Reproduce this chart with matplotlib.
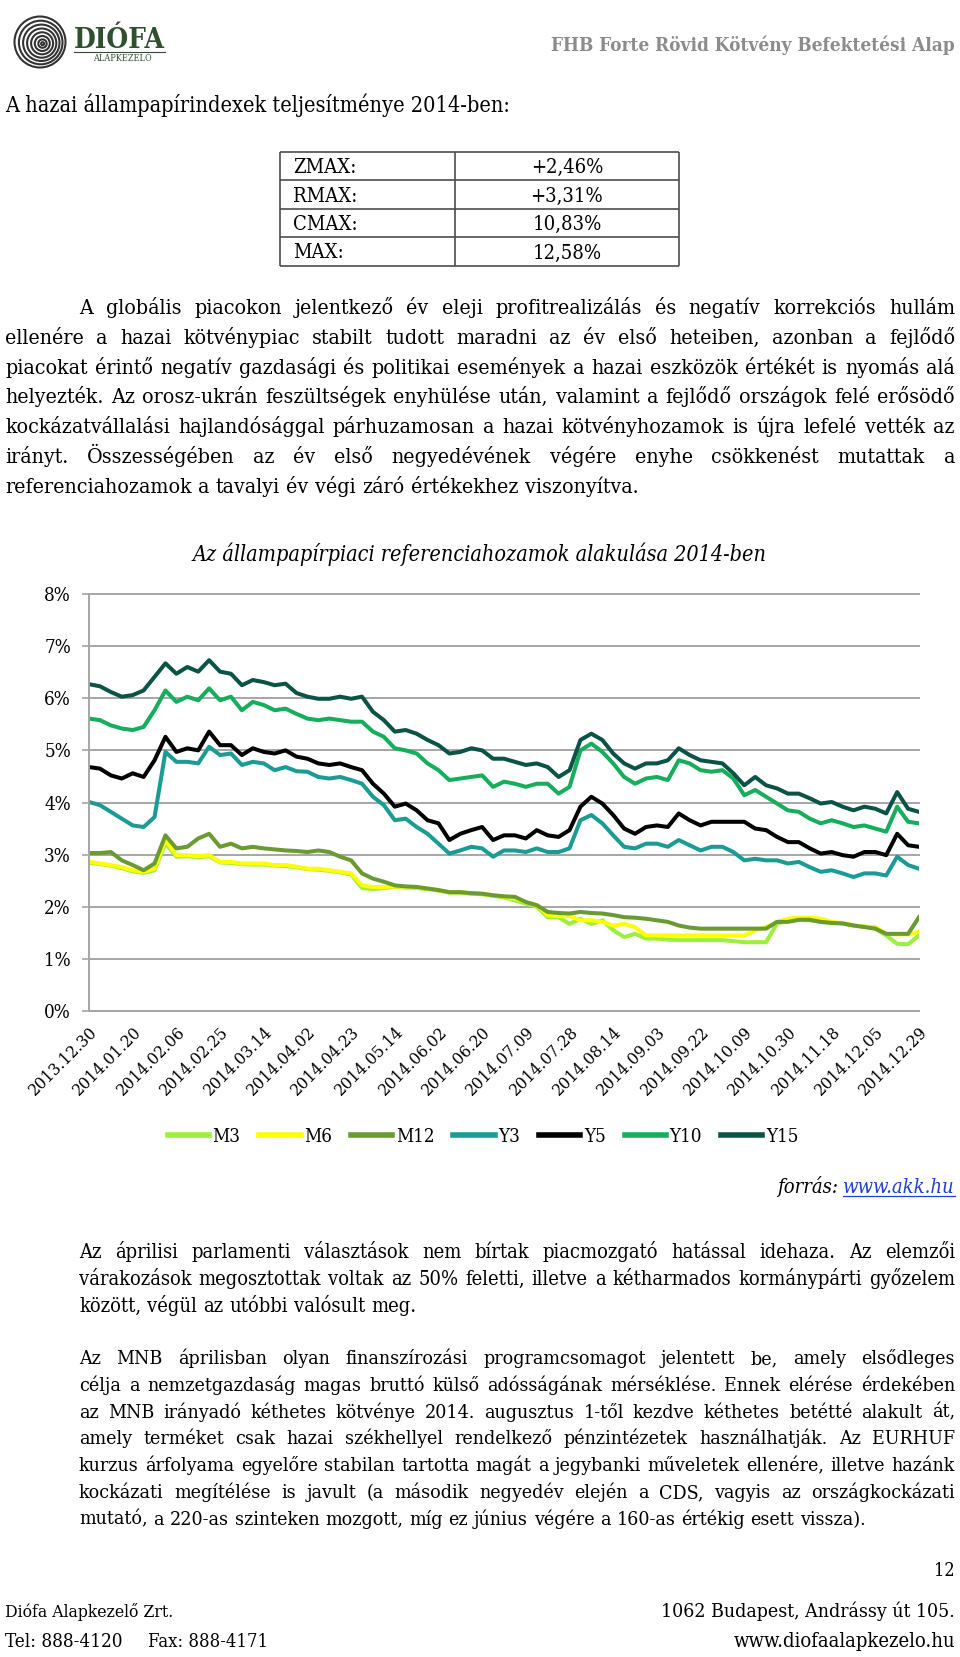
import numpy as np
import matplotlib.pyplot as plt
from matplotlib.patches import Circle
from matplotlib.lines import Line2D

plt.rcParams['font.family'] = ['DejaVu Serif']
plt.rcParams['font.stretch'] = 'condensed'   # falls back to normal width if not installed

# ---------------------------------------------------------------
# data: yields (%) read off the chart, sampled every quarter tick
# ---------------------------------------------------------------
tick_labels = ['2013.12.30', '2014.01.20', '2014.02.06', '2014.02.25', '2014.03.14',
               '2014.04.02', '2014.04.23', '2014.05.14', '2014.06.02', '2014.06.20',
               '2014.07.09', '2014.07.28', '2014.08.14', '2014.09.03', '2014.09.22',
               '2014.10.09', '2014.10.30', '2014.11.18', '2014.12.05', '2014.12.29']
x_pos = np.arange(77) * 0.25

m3 = [2.84, 2.82, 2.79, 2.74, 2.68, 2.65, 2.70, 3.22, 2.96, 2.97, 2.95, 2.97, 2.85, 2.84, 2.82, 2.81, 2.81, 2.79, 2.78, 2.76,
      2.72, 2.71, 2.69, 2.66, 2.62, 2.36, 2.34, 2.36, 2.38, 2.37, 2.36, 2.34, 2.31, 2.27, 2.27, 2.25, 2.24, 2.21, 2.18,
      2.12, 2.06, 2.00, 1.80, 1.80, 1.67, 1.77, 1.67, 1.74, 1.55, 1.42, 1.48, 1.39, 1.39, 1.37, 1.36, 1.36, 1.36, 1.36,
      1.36, 1.34, 1.32, 1.32, 1.32, 1.68, 1.73, 1.75, 1.74, 1.71, 1.69, 1.68, 1.64, 1.62, 1.58, 1.45, 1.29, 1.28, 1.45]
m6 = [2.86, 2.83, 2.80, 2.76, 2.70, 2.67, 2.73, 3.28, 2.99, 2.99, 2.97, 2.99, 2.86, 2.86, 2.83, 2.83, 2.83, 2.80, 2.80, 2.77,
      2.73, 2.73, 2.70, 2.67, 2.64, 2.41, 2.38, 2.38, 2.39, 2.38, 2.37, 2.35, 2.32, 2.28, 2.28, 2.26, 2.25, 2.22, 2.19,
      2.16, 2.09, 2.03, 1.84, 1.82, 1.82, 1.74, 1.74, 1.71, 1.64, 1.67, 1.61, 1.45, 1.45, 1.45, 1.45, 1.45, 1.45, 1.45,
      1.45, 1.45, 1.45, 1.55, 1.61, 1.71, 1.77, 1.79, 1.79, 1.77, 1.71, 1.69, 1.64, 1.62, 1.61, 1.48, 1.47, 1.47, 1.52]
m12 = [3.03, 3.03, 3.05, 2.89, 2.80, 2.70, 2.83, 3.37, 3.12, 3.15, 3.31, 3.40, 3.15, 3.21, 3.12, 3.15, 3.12, 3.10, 3.08, 3.07,
       3.05, 3.08, 3.05, 2.96, 2.89, 2.64, 2.54, 2.48, 2.41, 2.39, 2.38, 2.35, 2.32, 2.28, 2.28, 2.26, 2.25, 2.22, 2.20,
       2.19, 2.09, 2.03, 1.90, 1.88, 1.87, 1.90, 1.88, 1.87, 1.84, 1.80, 1.79, 1.77, 1.74, 1.71, 1.64, 1.60, 1.58, 1.58,
       1.58, 1.58, 1.58, 1.58, 1.58, 1.71, 1.71, 1.75, 1.75, 1.71, 1.69, 1.68, 1.64, 1.61, 1.58, 1.48, 1.48, 1.48, 1.80]
y3 = [4.01, 3.95, 3.82, 3.69, 3.56, 3.53, 3.72, 4.97, 4.78, 4.78, 4.75, 5.07, 4.91, 4.94, 4.72, 4.78, 4.75, 4.62, 4.68, 4.60,
      4.59, 4.49, 4.46, 4.49, 4.43, 4.36, 4.11, 3.95, 3.66, 3.69, 3.53, 3.40, 3.21, 3.02, 3.08, 3.15, 3.12, 2.96, 3.08,
      3.08, 3.05, 3.12, 3.05, 3.05, 3.12, 3.66, 3.76, 3.60, 3.37, 3.15, 3.12, 3.21, 3.21, 3.15, 3.28, 3.18, 3.08, 3.15,
      3.15, 3.05, 2.89, 2.92, 2.89, 2.89, 2.83, 2.86, 2.76, 2.67, 2.70, 2.64, 2.57, 2.64, 2.64, 2.60, 2.96, 2.80, 2.73]
y5 = [4.68, 4.65, 4.52, 4.46, 4.56, 4.49, 4.81, 5.26, 4.97, 5.04, 5.00, 5.36, 5.10, 5.10, 4.91, 5.04, 4.97, 4.94, 5.00, 4.88,
      4.84, 4.75, 4.72, 4.75, 4.68, 4.62, 4.36, 4.17, 3.92, 3.98, 3.85, 3.66, 3.60, 3.28, 3.40, 3.47, 3.53, 3.28, 3.37,
      3.37, 3.31, 3.47, 3.37, 3.34, 3.47, 3.92, 4.11, 3.98, 3.76, 3.50, 3.40, 3.53, 3.56, 3.53, 3.79, 3.66, 3.56, 3.63,
      3.63, 3.63, 3.63, 3.50, 3.47, 3.34, 3.24, 3.24, 3.12, 3.02, 3.05, 2.99, 2.96, 3.05, 3.05, 2.99, 3.40, 3.18, 3.15]
y10 = [5.61, 5.58, 5.48, 5.42, 5.39, 5.45, 5.77, 6.15, 5.93, 6.03, 5.96, 6.19, 5.96, 6.03, 5.77, 5.93, 5.87, 5.77, 5.80, 5.70,
       5.61, 5.58, 5.61, 5.58, 5.55, 5.55, 5.36, 5.26, 5.04, 5.00, 4.94, 4.75, 4.62, 4.43, 4.46, 4.49, 4.52, 4.30, 4.40,
       4.36, 4.30, 4.36, 4.36, 4.17, 4.30, 5.00, 5.13, 4.97, 4.75, 4.49, 4.36, 4.46, 4.49, 4.43, 4.81, 4.75, 4.62, 4.59,
       4.62, 4.46, 4.14, 4.24, 4.11, 3.98, 3.85, 3.82, 3.69, 3.60, 3.66, 3.60, 3.53, 3.56, 3.50, 3.44, 3.92, 3.63, 3.60]
y15 = [6.27, 6.23, 6.12, 6.03, 6.06, 6.15, 6.41, 6.67, 6.47, 6.60, 6.51, 6.73, 6.51, 6.47, 6.25, 6.35, 6.31, 6.25, 6.28, 6.10,
       6.03, 5.99, 5.99, 6.03, 5.99, 6.03, 5.74, 5.58, 5.36, 5.39, 5.32, 5.20, 5.10, 4.94, 4.97, 5.04, 5.00, 4.84, 4.84,
       4.78, 4.72, 4.75, 4.68, 4.49, 4.62, 5.20, 5.32, 5.20, 4.94, 4.75, 4.65, 4.75, 4.75, 4.81, 5.04, 4.91, 4.81, 4.78,
       4.75, 4.56, 4.33, 4.49, 4.33, 4.27, 4.17, 4.17, 4.08, 3.98, 4.01, 3.92, 3.85, 3.92, 3.88, 3.79, 4.20, 3.88, 3.82]

series_names = ['M3', 'M6', 'M12', 'Y3', 'Y5', 'Y10', 'Y15']
series_vals = [m3, m6, m12, y3, y5, y10, y15]
series_colors = ['#9BF03C', '#FFFF00', '#6A9A32', '#1A9C95', '#000000', '#16AD5C', '#0B5345']

index_names = ['ZMAX:', 'RMAX:', 'CMAX:', 'MAX:']
index_perf = ['+2,46%', '+3,31%', '10,83%', '12,58%']

para1 = ['A globális piacokon jelentkező év eleji profitrealizálás és negatív korrekciós hullám',
         'ellenére a hazai kötvénypiac stabilt tudott maradni az év első heteiben, azonban a fejlődő',
         'piacokat érintő negatív gazdasági és politikai események a hazai eszközök értékét is nyomás alá',
         'helyezték. Az orosz-ukrán feszültségek enyhülése után, valamint a fejlődő országok felé erősödő',
         'kockázatvállalási hajlandósággal párhuzamosan a hazai kötvényhozamok is újra lefelé vették az',
         'irányt. Összességében az év első negyedévének végére enyhe csökkenést mutattak a',
         'referenciahozamok a tavalyi év végi záró értékekhez viszonyítva.']
para2 = ['Az áprilisi parlamenti választások nem bírtak piacmozgató hatással idehaza. Az elemzői',
         'várakozások megosztottak voltak az 50% feletti, illetve a kétharmados kormánypárti győzelem',
         'között, végül az utóbbi valósult meg.']
para3 = ['Az MNB áprilisban olyan finanszírozási programcsomagot jelentett be, amely elsődleges',
         'célja a nemzetgazdaság magas bruttó külső adósságának mérséklése. Ennek elérése érdekében',
         'az MNB irányadó kéthetes kötvénye 2014. augusztus 1-től kezdve kéthetes betétté alakult át,',
         'amely terméket csak hazai székhellyel rendelkező pénzintézetek használhatják. Az EURHUF',
         'kurzus árfolyama egyelőre stabilan tartotta magát a jegybanki műveletek ellenére, illetve hazánk',
         'kockázati megítélése is javult (a második negyedév elején a CDS, vagyis az országkockázati',
         'mutató, a 220-as szinteken mozgott, míg ez június végére a 160-as értékig esett vissza).']

# ---------------------------------------------------------------
# page canvas: one data unit = one pixel
# ---------------------------------------------------------------
W, H = 960, 1657
fig = plt.figure(figsize=(W / 100, H / 100), dpi=100)
page = fig.add_axes([0, 0, 1, 1])
page.set_xlim(0, W)
page.set_ylim(H, 0)
page.axis('off')
renderer = fig.canvas.get_renderer()


def width_of(t):
    return t.get_window_extent(renderer).width


def fit_text(x, y, s, width, size, **kw):
    t = page.text(x, y, s, fontsize=size, va='baseline', **kw)
    t.set_fontsize(size * width / width_of(t))
    return t


def paragraph(lines, x0, x1, y0, step, size, indent=0):
    # shrink the size until the widest line fits, then justify word by word
    probe = page.text(0, 0, '', fontsize=size)
    over = 1.0
    for i, ln in enumerate(lines):
        probe.set_text(ln)
        room = x1 - x0 - (indent if i == 0 else 0)
        over = max(over, width_of(probe) / (room * 0.99))
    probe.remove()
    size = size / over
    for i, ln in enumerate(lines):
        start = x0 + (indent if i == 0 else 0)
        words = ln.split()
        arts = [page.text(0, y0 + i * step, w, fontsize=size, va='baseline') for w in words]
        ws = [width_of(a) for a in arts]
        if i == len(lines) - 1:
            gap = size * 0.3 * 100 / 72
        else:
            gap = (x1 - start - sum(ws)) / (len(words) - 1)
        x = start
        for a, w in zip(arts, ws):
            a.set_x(x)
            x += w + gap


# header: logo and fund name
for r, dx, dy in [(25.5, 0, 0), (21.8, 0.7, 0.5), (18.2, 1.3, 0.8), (14.6, 1.7, 1.1),
                  (11, 2.1, 1.3), (7.5, 2.3, 1.5), (4.2, 2.5, 1.6), (1.5, 2.6, 1.7)]:
    page.add_patch(Circle((40 + dx, 42 + dy), r, fill=False, ec='#333333', lw=1.5))
fit_text(74, 48, 'DIÓFA', 91, 18, color='#2F4F2F', fontweight='bold')
page.plot([74, 165], [52, 52], color='#2F4F2F', lw=0.8)
fit_text(93, 61, 'ALAPKEZELŐ', 58, 6, color='#2F4F2F')
t = fit_text(955, 51, 'FHB Forte Rövid Kötvény Befektetési Alap', 404, 12,
             color='#8C8C8C', fontweight='bold')
t.set_ha('right')

fit_text(5, 112, 'A hazai állampapírindexek teljesítménye 2014-ben:', 503, 13)

# index table
rows = [151.5, 180, 208.5, 237, 265.5]
page.hlines(rows, 280, 679, color='#4D4D4D', lw=1.2)
page.vlines([280, 455, 679], rows[0], rows[-1], color='#4D4D4D', lw=1.2)
for i, (name, perf) in enumerate(zip(index_names, index_perf)):
    yb = rows[i] + 21.5
    page.text(293, yb, name, fontsize=14.5, va='baseline')
    page.text(567, yb, perf, fontsize=14.5, va='baseline', ha='center')

paragraph(para1, 5, 955, 314, 29.8, 16, indent=74)

# ---------------------------------------------------------------
# chart
# ---------------------------------------------------------------
page.text(479, 561, 'Az állampapírpiaci referenciahozamok alakulása 2014-ben',
          fontsize=15.5, style='italic', ha='center', va='baseline')

ax = fig.add_axes([89 / W, 1 - 1011 / H, 830 / W, 417 / H])
ax.set_xlim(0, 19)
ax.set_ylim(0, 8)
for name, vals, col in zip(series_names, series_vals, series_colors):
    ax.plot(x_pos, vals, color=col, lw=2.9, label=name, solid_joinstyle='round')

grid_col = '#A6A6A6'
ax.set_yticks(range(9))
ax.set_yticklabels([f'{v}%' for v in range(9)], fontsize=13.5)
ax.yaxis.grid(True, color=grid_col, lw=1.4)
for gl in ax.get_ygridlines():
    gl.set_clip_on(False)
ax.set_axisbelow(True)
ax.tick_params(axis='y', length=5, width=1.2, color=grid_col, pad=8)
ax.set_xticks(range(20))
ax.set_xticklabels(tick_labels, rotation=45, ha='right', rotation_mode='anchor', fontsize=12.5)
ax.tick_params(axis='x', length=0, pad=9)
for side in ['top', 'right']:
    ax.spines[side].set_visible(False)
for side in ['left', 'bottom']:
    ax.spines[side].set_color(grid_col)
    ax.spines[side].set_linewidth(1.4)

handles = [Line2D([], [], color=c, lw=4) for c in series_colors]
fig.legend(handles, series_names, loc='center', bbox_to_anchor=(483 / W, 1 - 1137 / H),
           ncol=7, frameon=False, fontsize=13.5, handlelength=2.2, handletextpad=0.2,
           columnspacing=1.0)

link = page.text(955, 1193, 'www.akk.hu', fontsize=14.5, style='italic', color='#1F3FCC',
                 ha='right', va='baseline')
lw_link = width_of(link)
page.plot([955 - lw_link, 955], [1196, 1196], color='#1F3FCC', lw=0.9)
page.text(955 - lw_link - 5, 1193, 'forrás:', fontsize=14.5, style='italic', ha='right', va='baseline')

# ---------------------------------------------------------------
# closing paragraphs and footer
# ---------------------------------------------------------------
paragraph(para2, 79, 955, 1258, 26.8, 16)
paragraph(para3, 79, 955, 1364, 26.8, 16)

page.text(955, 1576, '12', fontsize=13, ha='right', va='baseline')
fit_text(5, 1617, 'Diófa Alapkezelő Zrt.', 169, 12)
fit_text(5, 1647, 'Tel: 888-4120', 118, 12)
fit_text(148, 1647, 'Fax: 888-4171', 119, 12)
t = fit_text(955, 1617, '1062 Budapest, Andrássy út 105.', 294, 12)
t.set_ha('right')
t = fit_text(955, 1647, 'www.diofaalapkezelo.hu', 222, 12)
t.set_ha('right')

fig.savefig('out.png', dpi=100)
